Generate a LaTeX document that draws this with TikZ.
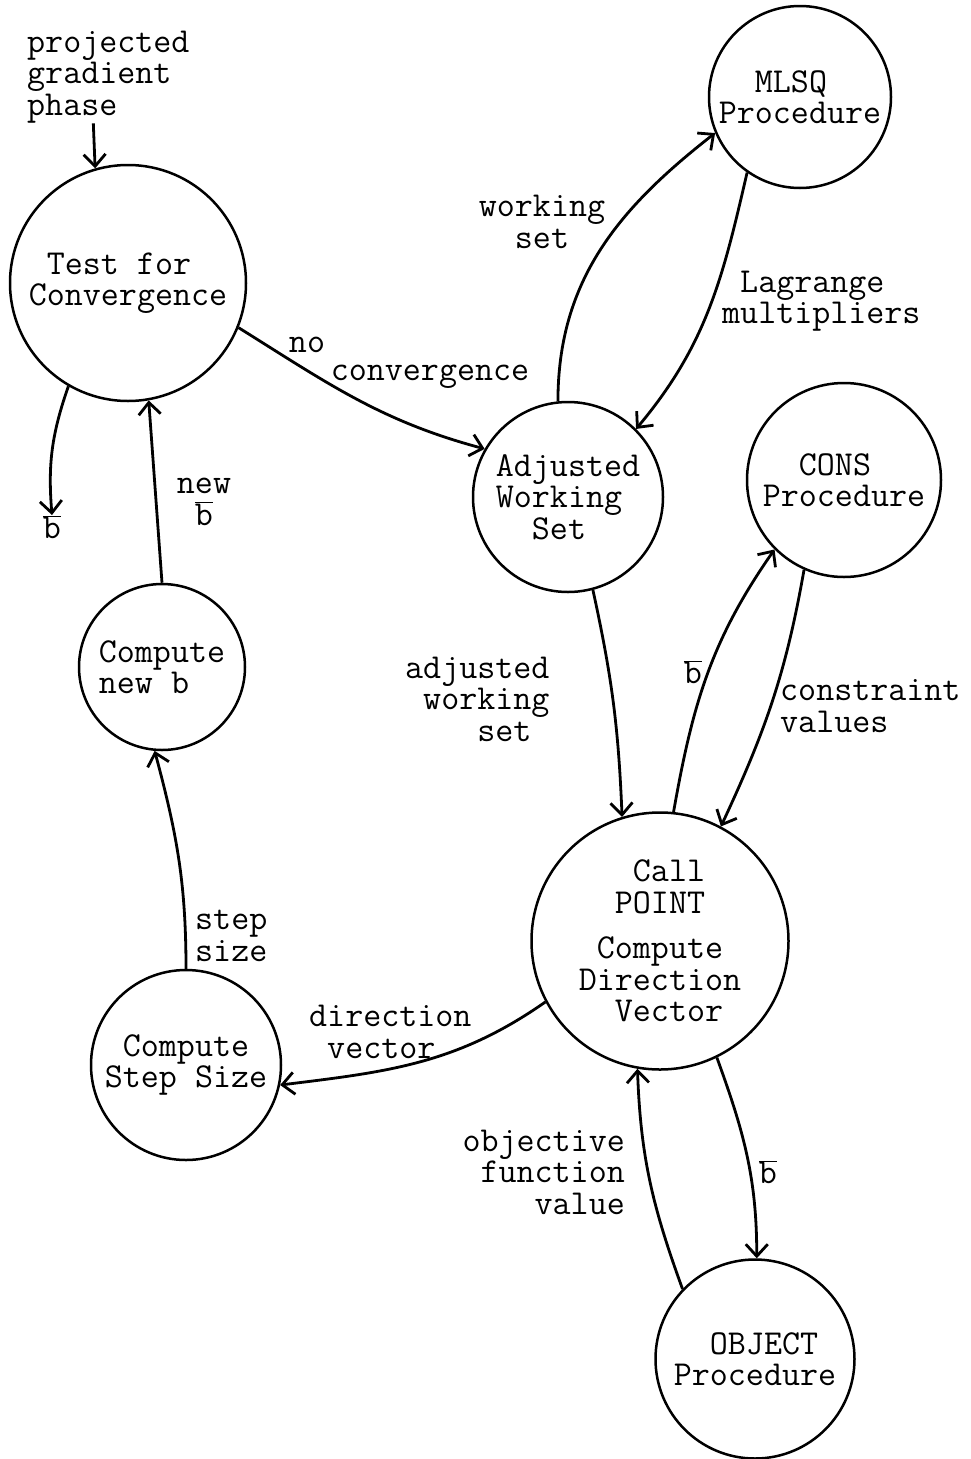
\documentclass[tikz,border=0pt]{standalone}
\usepackage{tikz}
\usetikzlibrary{arrows.meta}
\newcommand{\bbar}{\ensuremath{\overline{\mbox{b}}}}

\begin{document}
\begin{tikzpicture}[x=1pt,y=1pt,
  >={Straight Barb[length=12pt,width=22pt]},
  every node/.style={font=\fontsize{35}{31.5}\selectfont\ttfamily, inner sep=0pt},
  proc/.style={draw, circle, line width=2.5pt, align=left},
  flow/.style={->, line width=2.8pt}]
  \useasboundingbox (0,0) rectangle (971,-1459);

  % procedures
  \node[proc, minimum size=236pt] (test) at (128,-283) {\phantom{x}Test for\\Convergence};
  \node[proc, minimum size=182pt] (mlsq) at (800,-97) {\phantom{xx}MLSQ\\Procedure};
  \node[proc, minimum size=190pt] (adj) at (568,-497) {Adjusted\\Working\\\phantom{xx}Set};
  \node[proc, minimum size=194pt] (cons) at (844,-480) {\phantom{xx}CONS\\Procedure};
  \node[proc, minimum size=257pt] (point) at (660,-941) {\phantom{xxx}Call\\\phantom{xx}POINT\\[14pt]\phantom{x}Compute\\Direction\\\phantom{xx}Vector};
  \node[proc, minimum size=166pt] (newb) at (162,-667) {Compute\\new b};
  \node[proc, minimum size=190pt] (step) at (186,-1065) {\phantom{x}Compute\\Step Size};
  \node[proc, minimum size=199pt] (object) at (755,-1359) {\phantom{xx}OBJECT\\Procedure};

  % labels
  \node[anchor=west, align=left] (proj) at (27,-77) {projected\\gradient\\phase};
  \node (bout) at (52,-527) {\bbar};
  \node[align=center] (newlbl) at (204,-502) {new\\\bbar};
  \node (nolbl) at (307,-345) {no};
  \node (convlbl) at (430,-377) {convergence};
  \node[align=center] (wslbl) at (542,-222) {working\\set};
  \node[anchor=west, align=left] (lmlbl) at (722,-301) {\phantom{x}Lagrange\\multipliers};
  \node[anchor=west, align=left] (awslbl) at (405,-699) {adjusted\\\phantom{x}working\\\phantom{xxxx}set};
  \node (bcons) at (693,-672) {\bbar};
  \node[anchor=west, align=left] (cvlbl) at (780,-706) {constraint\\values};
  \node[anchor=west, align=left] (sslbl) at (195,-936) {step\\size};
  \node[anchor=west, align=left] (dvlbl) at (309,-1032) {direction\\\phantom{x}vector};
  \node[anchor=east, align=right] (ofvlbl) at (625,-1172) {objective\\function\\value};
  \node (bobj) at (768,-1172) {\bbar};

  % data flows
  \draw[flow] ([xshift=-15pt]proj.south) -- (test.106);
  \draw[flow] (test.240) to[bend right=12] (bout.north);
  \draw[flow] (newb.north) -- (test.280);
  \draw[flow] (test.338) to[out=-32,in=165] (adj.150);
  \draw[flow] (adj.96) to[out=90,in=218] (mlsq.203);
  \draw[flow] (mlsq.235) to[out=-103,in=50] (adj.45);
  \draw[flow] (adj.285) to[bend left=5] (point.107);
  \draw[flow] (point.84) to[out=80,in=235] (cons.225);
  \draw[flow] (cons.246) to[out=-100,in=65] (point.62);
  \draw[flow] (point.208) to[out=-145,in=7] (step.348);
  \draw[flow] (step.90) to[out=90,in=-75] (newb.265);
  \draw[flow] (object.136) to[out=110,in=-88] (point.260);
  \draw[flow] (point.296) to[out=-70,in=90] (object.89);
\end{tikzpicture}
\end{document}
